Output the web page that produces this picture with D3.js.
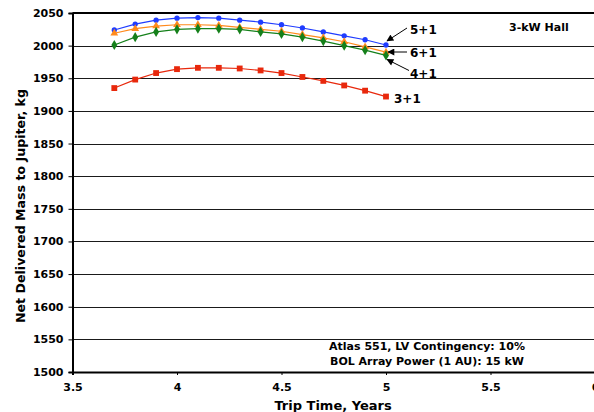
<!DOCTYPE html>
<html>
<head>
<meta charset="utf-8">
<script src="https://cdn.jsdelivr.net/npm/d3@7"></script>
<style>
  html, body { margin: 0; padding: 0; background: #fff; }
  svg { display: block; font-family: "DejaVu Sans", Verdana, sans-serif; font-weight: bold; }
</style>
</head>
<body>
<svg id="chart" width="594" height="412"></svg>
<script>
// Trip time (years) for each computed case
const tripTime = [3.7, 3.8, 3.9, 4.0, 4.1, 4.2, 4.3, 4.4, 4.5, 4.6, 4.7, 4.8, 4.9, 5.0];

// Net delivered mass (kg) per thruster configuration
const mass5p1 = [2024, 2033, 2039, 2042, 2043, 2042, 2039, 2036, 2032, 2027, 2021, 2015, 2009, 2001];
const mass6p1 = [2019, 2026, 2030, 2032, 2032, 2031, 2028, 2025, 2022, 2017, 2012, 2006, 1998, 1990];
const mass4p1 = [2001, 2013, 2021, 2025, 2026, 2026, 2025, 2021, 2018, 2013, 2007, 2000, 1993, 1985];
const mass3p1 = [1935, 1948, 1958, 1964, 1966, 1966, 1965, 1962, 1958, 1952, 1946, 1939, 1931, 1922];

const seriesNames = ["5+1", "6+1", "4+1", "3+1"];
const xTicks = [3.5, 4, 4.5, 5, 5.5, 6];
const yTicks = d3.range(1500, 2051, 50);

const svg = d3.select("#chart");

const x = d3.scaleLinear().domain([3.5, 6]).range([72.5, 595]);
const y = d3.scaleLinear().domain([1500, 2050]).range([372, 13]);

// horizontal gridlines
svg.append("g")
  .selectAll("line")
  .data(yTicks.filter(d => d > 1500 && d < 2050))
  .join("line")
  .attr("x1", x(3.5)).attr("x2", x(6))
  .attr("y1", d => Math.round(y(d)) + 0.5).attr("y2", d => Math.round(y(d)) + 0.5)
  .attr("stroke", "#1a1a1a").attr("stroke-width", 1);

// top frame line
svg.append("line")
  .attr("x1", x(3.5)).attr("x2", x(6))
  .attr("y1", y(2050)).attr("y2", y(2050))
  .attr("stroke", "#000").attr("stroke-width", 2);

// y axis
const yAxis = svg.append("g")
  .attr("transform", `translate(${x(3.5)},0)`)
  .call(d3.axisLeft(y).tickValues(yTicks).tickSize(4).tickPadding(5).tickFormat(d3.format("d")));
yAxis.select(".domain").attr("stroke", "#000").attr("stroke-width", 2);
yAxis.selectAll(".tick line").attr("stroke", "#000");
yAxis.selectAll("text").attr("font-size", 11).attr("font-weight", "bold")
  .attr("font-family", "DejaVu Sans, Verdana, sans-serif").attr("fill", "#000");

// x axis
const xAxis = svg.append("g")
  .attr("transform", `translate(0,${y(1500)})`)
  .call(d3.axisBottom(x).tickValues(xTicks).tickSize(3).tickPadding(8).tickFormat(d => String(d)));
xAxis.select(".domain").attr("stroke", "#000").attr("stroke-width", 2);
xAxis.selectAll(".tick line").attr("stroke", "#000");
xAxis.selectAll("text").attr("font-size", 11).attr("font-weight", "bold")
  .attr("font-family", "DejaVu Sans, Verdana, sans-serif").attr("fill", "#000");

// data series
const series = [
  { name: seriesNames[0], values: mass5p1, color: "#1f3cff", symbol: d3.symbolCircle, size: 22 },
  { name: seriesNames[1], values: mass6p1, color: "#ff8a1c", symbol: d3.symbolTriangle, size: 26 },
  { name: seriesNames[2], values: mass4p1, color: "#15801a", symbol: d3.symbolDiamond, size: 30 },
  { name: seriesNames[3], values: mass3p1, color: "#e8280c", symbol: d3.symbolSquare, size: 34 }
];

const line = d3.line().x((d, i) => x(tripTime[i])).y(d => y(d));

series.forEach(s => {
  const g = svg.append("g");
  g.append("path")
    .attr("d", line(s.values))
    .attr("fill", "none")
    .attr("stroke", s.color)
    .attr("stroke-width", 1.2);
  g.selectAll("path.mk")
    .data(s.values)
    .join("path")
    .attr("class", "mk")
    .attr("transform", (d, i) => `translate(${x(tripTime[i])},${y(d)})`)
    .attr("d", d3.symbol().type(s.symbol).size(s.size))
    .attr("fill", s.color);
});

// arrow marker for callouts
svg.append("defs").append("marker")
  .attr("id", "arrowhead")
  .attr("viewBox", "0 0 10 10")
  .attr("refX", 9).attr("refY", 5)
  .attr("markerWidth", 9).attr("markerHeight", 7)
  .attr("markerUnits", "userSpaceOnUse")
  .attr("orient", "auto")
  .append("path").attr("d", "M0,0 L10,5 L0,10 z").attr("fill", "#000");

// series callouts
const last = tripTime.length - 1;
const callouts = [
  { text: seriesNames[0], tx: 410, ty: 34, x1: 407, y1: 28, x2: x(tripTime[last]) + 1, y2: y(mass5p1[last]) - 4, arrow: true },
  { text: seriesNames[1], tx: 410, ty: 57, x1: 407, y1: 52, x2: x(tripTime[last]) + 2, y2: 52, arrow: true },
  { text: seriesNames[2], tx: 410, ty: 78, x1: 409, y1: 70.5, x2: x(tripTime[last]) + 1, y2: y(mass4p1[last]) + 4, arrow: true },
  { text: seriesNames[3], tx: 394, ty: 103, arrow: false }
];

callouts.forEach(c => {
  if (c.arrow) {
    svg.append("line")
      .attr("x1", c.x1).attr("y1", c.y1).attr("x2", c.x2).attr("y2", c.y2)
      .attr("stroke", "#000").attr("stroke-width", 1)
      .attr("marker-end", "url(#arrowhead)");
  }
  svg.append("text")
    .attr("x", c.tx).attr("y", c.ty)
    .attr("font-size", 12).attr("fill", "#000")
    .text(c.text);
});

// panel label
svg.append("text")
  .attr("x", 509).attr("y", 31)
  .attr("font-size", 11).attr("fill", "#000")
  .text("3-kW Hall");

// assumptions note
svg.append("text")
  .attr("x", 427).attr("y", 350)
  .attr("text-anchor", "middle")
  .attr("font-size", 11).attr("fill", "#000")
  .text("Atlas 551, LV Contingency: 10%");
svg.append("text")
  .attr("x", 427).attr("y", 365)
  .attr("text-anchor", "middle")
  .attr("font-size", 11).attr("fill", "#000")
  .text("BOL Array Power (1 AU): 15 kW");

// axis titles
svg.append("text")
  .attr("x", 333).attr("y", 410)
  .attr("text-anchor", "middle")
  .attr("font-size", 13).attr("fill", "#000")
  .text("Trip Time, Years");

svg.append("text")
  .attr("transform", "translate(25,206) rotate(-90)")
  .attr("text-anchor", "middle")
  .attr("font-size", 12.6).attr("fill", "#000")
  .text("Net Delivered Mass to Jupiter, kg");
</script>
</body>
</html>
